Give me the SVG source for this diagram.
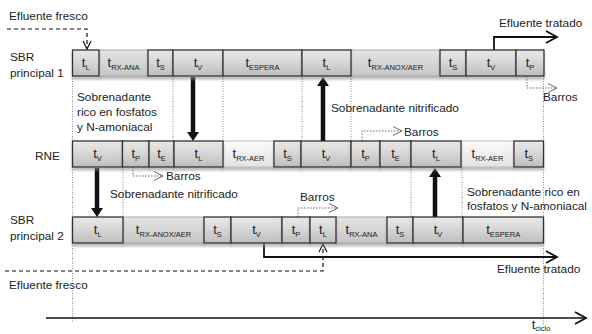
<svg xmlns="http://www.w3.org/2000/svg" width="592" height="334" viewBox="0 0 592 334">
<defs>
<linearGradient id="g" x1="0" y1="0" x2="0" y2="1"><stop offset="0" stop-color="#e8e8e8"/><stop offset="0.35" stop-color="#dcdcdc"/><stop offset="1" stop-color="#bdbdbd"/></linearGradient>
<linearGradient id="g2" x1="0" y1="0" x2="0" y2="1"><stop offset="0" stop-color="#e4e4e4"/><stop offset="1" stop-color="#c6c6c6"/></linearGradient>
<linearGradient id="g3" x1="0" y1="0" x2="0" y2="1"><stop offset="0" stop-color="#fbfbfb"/><stop offset="1" stop-color="#e2e2e2"/></linearGradient>
<filter id="sh" x="-10%" y="-20%" width="120%" height="160%"><feDropShadow dx="0" dy="3" stdDeviation="1.2" flood-color="#888" flood-opacity="0.55"/></filter>
<marker id="oaK" markerUnits="userSpaceOnUse" markerWidth="10" markerHeight="10" refX="8" refY="4" orient="auto" overflow="visible"><path d="M0,0 L8,4 L0,8" fill="none" stroke="#111" stroke-width="1.2"/></marker>
<marker id="oaG" markerUnits="userSpaceOnUse" markerWidth="10" markerHeight="10" refX="9" refY="4.5" orient="auto" overflow="visible"><path d="M0,0 L9,4.5 L0,9" fill="none" stroke="#666" stroke-width="1"/></marker>
<marker id="ob" markerUnits="userSpaceOnUse" markerWidth="12" markerHeight="12" refX="11" refY="6" orient="auto" overflow="visible"><path d="M0,0 L11,6 L0,12" fill="none" stroke="#111" stroke-width="1.8"/></marker>
<marker id="fa" markerUnits="userSpaceOnUse" markerWidth="10" markerHeight="12" refX="0" refY="6" orient="auto" overflow="visible"><path d="M0,0 L9,6 L0,12 z" fill="#111"/></marker>
</defs>
<style>
.bx{fill:url(#g);stroke:#333;stroke-width:1.3;filter:url(#sh)}
.rx{fill:url(#g2);stroke:#a8a8a8;stroke-width:1;filter:url(#sh)}
.rl{fill:url(#g3);stroke:#bdbdbd;stroke-width:1;filter:url(#sh)}
.t{font-family:"Liberation Sans",Arial,sans-serif;font-size:13px;fill:#222;text-anchor:middle}
.s{font-size:7.5px}
.lb{font-family:"Liberation Sans",Arial,sans-serif;font-size:11.8px;fill:#222}
.dv{stroke:#888;stroke-width:1;stroke-dasharray:1,1.5;fill:none}
.dg{stroke:#666;stroke-width:1;stroke-dasharray:1.5,1.5;fill:none;marker-end:url(#oaG)}
.dk{stroke:#111;stroke-width:1.2;stroke-dasharray:4,3;fill:none;marker-end:url(#oaK)}
.th{stroke:#111;stroke-width:4.5;fill:none;marker-end:url(#fa)}
.ef{stroke:#111;stroke-width:1.8;fill:none;marker-end:url(#ob)}
</style>

<g id="connectors">
<g id="dotted">
<path class="dv" d="M72.5,76V141M173,76V141M223,76V141M302,76V141M351,76V141M543.5,76V141"/>
<path class="dv" d="M72.5,167V217M123,167V217M411,167V217M462,167V217M543.5,167V217"/>
<path class="dv" d="M72.5,243V322M543.5,243V324"/>
</g>
<path class="th" d="M193,77V132"/>
<path class="th" d="M323,141V86"/>
<path class="th" d="M97,168V208"/>
<path class="th" d="M435,217V177"/>
<path class="dk" d="M7,29H87V49"/>
<path class="dk" d="M5,271H323V244"/>
<path class="ef" d="M494,50V37H557"/>
<path class="ef" d="M264,243V257H557"/>
<path class="dg" d="M527,76V88H557"/>
<path class="dg" d="M133,167V176H163"/>
<path class="dg" d="M362,141V131H402"/>
<path class="dg" d="M298,217V208H338"/>
<path d="M46,318H586" stroke="#111" stroke-width="1.3" fill="none" marker-end="url(#ob)"/>
</g>

<g id="labels">
<text class="lb" x="9" y="20">Efluente fresco</text>
<text class="lb" x="10" y="61">SBR</text>
<text class="lb" x="10" y="77">principal 1</text>
<text class="lb" x="35" y="160">RNE</text>
<text class="lb" x="10" y="224">SBR</text>
<text class="lb" x="10" y="240">principal 2</text>
<text class="lb" x="9" y="289">Efluente fresco</text>
<text class="lb" x="499" y="27">Efluente tratado</text>
<text class="lb" x="497" y="273">Efluente tratado</text>
<text class="lb" x="77" y="101">Sobrenadante</text>
<text class="lb" x="77" y="116">rico en fosfatos</text>
<text class="lb" x="77" y="131">y N-amoniacal</text>
<text class="lb" x="331" y="112">Sobrenadante nitrificado</text>
<text class="lb" x="110" y="198">Sobrenadante nitrificado</text>
<text class="lb" x="467" y="196">Sobrenadante rico en</text>
<text class="lb" x="467" y="210">fosfatos y N-amoniacal</text>
<text class="lb" x="543" y="101">Barros</text>
<text class="lb" x="166" y="180">Barros</text>
<text class="lb" x="404" y="136">Barros</text>
<text class="lb" x="300" y="201">Barros</text>
<text class="t" x="541" y="329">t<tspan class="s" dy="2">ciclo</tspan></text>
</g>

<g id="sbr1">
<g id="s1-2"><rect class="rx" x="99" y="50" width="49" height="26"/><text class="t" x="123.5" y="67">t<tspan class="s" dy="3">RX-ANA</tspan></text></g>
<g id="s1-7"><rect class="rx" x="351" y="50" width="89" height="26"/><text class="t" x="395.5" y="67">t<tspan class="s" dy="3">RX-ANOX/AER</tspan></text></g>
<g id="s1-1"><rect class="bx" x="72.5" y="50" width="26.5" height="26"/><text class="t" x="85.75" y="67">t<tspan class="s" dy="3">L</tspan></text></g>
<g id="s1-3"><rect class="bx" x="148" y="50" width="25" height="26"/><text class="t" x="160.5" y="67">t<tspan class="s" dy="3">S</tspan></text></g>
<g id="s1-4"><rect class="bx" x="173" y="50" width="50" height="26"/><text class="t" x="198" y="67">t<tspan class="s" dy="3">V</tspan></text></g>
<g id="s1-5"><rect class="bx" x="223" y="50" width="79" height="26"/><text class="t" x="262.5" y="67">t<tspan class="s" dy="3">ESPERA</tspan></text></g>
<g id="s1-6"><rect class="bx" x="302" y="50" width="49" height="26"/><text class="t" x="326.5" y="67">t<tspan class="s" dy="3">L</tspan></text></g>
<g id="s1-8"><rect class="bx" x="440" y="50" width="26" height="26"/><text class="t" x="453" y="67">t<tspan class="s" dy="3">S</tspan></text></g>
<g id="s1-9"><rect class="bx" x="466" y="50" width="50" height="26"/><text class="t" x="491" y="67">t<tspan class="s" dy="3">V</tspan></text></g>
<g id="s1-10"><rect class="bx" x="516" y="50" width="28" height="26"/><text class="t" x="530" y="67">t<tspan class="s" dy="3">P</tspan></text></g>
</g>

<g id="rne">
<g id="r-5"><rect class="rl" x="223" y="141" width="51" height="26"/><text class="t" x="248.5" y="158">t<tspan class="s" dy="3">RX-AER</tspan></text></g>
<g id="r-11"><rect class="rl" x="461" y="141" width="53" height="26"/><text class="t" x="487.5" y="158">t<tspan class="s" dy="3">RX-AER</tspan></text></g>
<g id="r-1"><rect class="bx" x="72.5" y="141" width="50" height="26"/><text class="t" x="97.5" y="158">t<tspan class="s" dy="3">V</tspan></text></g>
<g id="r-2"><rect class="bx" x="122.5" y="141" width="26.5" height="26"/><text class="t" x="135.75" y="158">t<tspan class="s" dy="3">P</tspan></text></g>
<g id="r-3"><rect class="bx" x="149" y="141" width="25" height="26"/><text class="t" x="161.5" y="158">t<tspan class="s" dy="3">E</tspan></text></g>
<g id="r-4"><rect class="bx" x="174" y="141" width="49" height="26"/><text class="t" x="198.5" y="158">t<tspan class="s" dy="3">L</tspan></text></g>
<g id="r-6"><rect class="bx" x="274" y="141" width="27" height="26"/><text class="t" x="287.5" y="158">t<tspan class="s" dy="3">S</tspan></text></g>
<g id="r-7"><rect class="bx" x="301" y="141" width="50" height="26"/><text class="t" x="326" y="158">t<tspan class="s" dy="3">V</tspan></text></g>
<g id="r-8"><rect class="bx" x="351" y="141" width="29" height="26"/><text class="t" x="365.5" y="158">t<tspan class="s" dy="3">P</tspan></text></g>
<g id="r-9"><rect class="bx" x="380" y="141" width="31" height="26"/><text class="t" x="395.5" y="158">t<tspan class="s" dy="3">E</tspan></text></g>
<g id="r-10"><rect class="bx" x="411" y="141" width="50" height="26"/><text class="t" x="436" y="158">t<tspan class="s" dy="3">L</tspan></text></g>
<g id="r-12"><rect class="bx" x="514" y="141" width="29.5" height="26"/><text class="t" x="528.75" y="158">t<tspan class="s" dy="3">S</tspan></text></g>
</g>

<g id="sbr2">
<g id="s2-2"><rect class="rx" x="123" y="217" width="81" height="26"/><text class="t" x="163.5" y="234">t<tspan class="s" dy="3">RX-ANOX/AER</tspan></text></g>
<g id="s2-7"><rect class="rx" x="336" y="217" width="51" height="26"/><text class="t" x="361.5" y="234">t<tspan class="s" dy="3">RX-ANA</tspan></text></g>
<g id="s2-1"><rect class="bx" x="72.5" y="217" width="50.5" height="26"/><text class="t" x="97.75" y="234">t<tspan class="s" dy="3">L</tspan></text></g>
<g id="s2-3"><rect class="bx" x="204" y="217" width="27" height="26"/><text class="t" x="217.5" y="234">t<tspan class="s" dy="3">S</tspan></text></g>
<g id="s2-4"><rect class="bx" x="231" y="217" width="51" height="26"/><text class="t" x="256.5" y="234">t<tspan class="s" dy="3">V</tspan></text></g>
<g id="s2-5"><rect class="bx" x="282" y="217" width="28" height="26"/><text class="t" x="296" y="234">t<tspan class="s" dy="3">P</tspan></text></g>
<g id="s2-6"><rect class="bx" x="310" y="217" width="26" height="26"/><text class="t" x="323" y="234">t<tspan class="s" dy="3">L</tspan></text></g>
<g id="s2-8"><rect class="bx" x="387" y="217" width="26" height="26"/><text class="t" x="400" y="234">t<tspan class="s" dy="3">S</tspan></text></g>
<g id="s2-9"><rect class="bx" x="413" y="217" width="50" height="26"/><text class="t" x="438" y="234">t<tspan class="s" dy="3">V</tspan></text></g>
<g id="s2-10"><rect class="bx" x="463" y="217" width="80.5" height="26"/><text class="t" x="503.25" y="234">t<tspan class="s" dy="3">ESPERA</tspan></text></g>
</g>
</svg>
